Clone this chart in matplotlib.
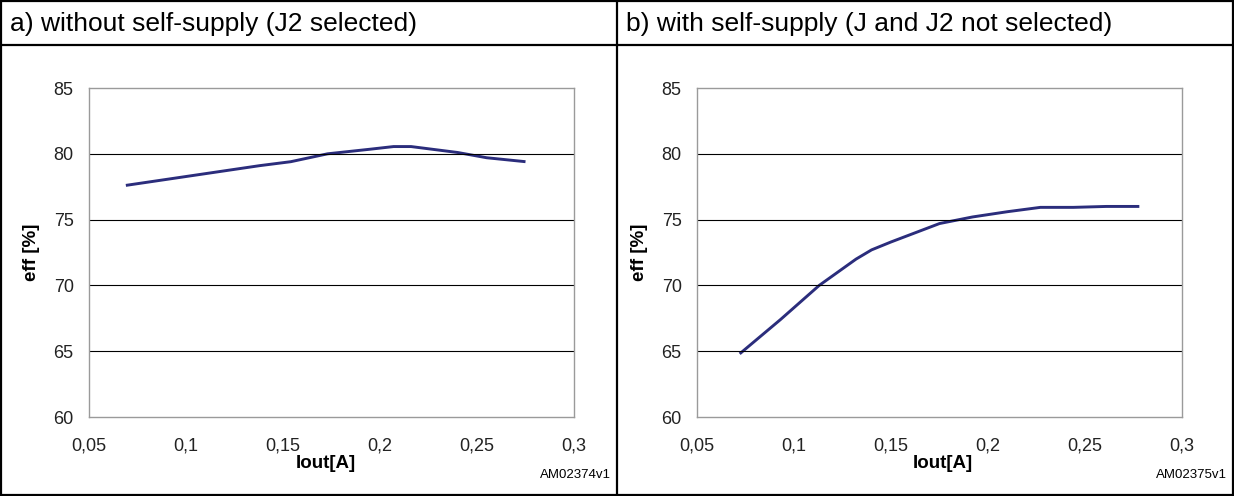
import matplotlib
matplotlib.use('Agg')
import matplotlib.pyplot as plt
from matplotlib.lines import Line2D

plt.rcParams['font.family'] = ['Liberation Sans', 'DejaVu Sans']

# data
iout_a = [0.069, 0.138, 0.154, 0.173, 0.195, 0.207, 0.216, 0.240, 0.255, 0.275]
eff_a = [77.6, 79.1, 79.4, 80.0, 80.35, 80.55, 80.55, 80.1, 79.7, 79.4]

iout_b = [0.072, 0.093, 0.113, 0.132, 0.140, 0.150, 0.175, 0.192, 0.210, 0.227, 0.244, 0.261, 0.278]
eff_b = [64.8, 67.4, 70.0, 72.0, 72.7, 73.3, 74.7, 75.2, 75.6, 75.93, 75.93, 76.0, 76.0]

x_ticks = [0.05, 0.1, 0.15, 0.2, 0.25, 0.3]
x_ticklabels = ['0,05', '0,1', '0,15', '0,2', '0,25', '0,3']
y_ticks = [60, 65, 70, 75, 80, 85]

titles = ['a) without self-supply (J2 selected)', 'b) with self-supply (J and J2 not selected)']
codes = ['AM02374v1', 'AM02375v1']

W, H = 1234, 496
fig = plt.figure(figsize=(W / 100, H / 100), dpi=100)


def fx(px):
    return px / W


def fy(py):
    return 1 - py / H


## table frame around the two panels
frame = dict(color='black', lw=1.6, transform=fig.transFigure)
for xs, ys in [([1, 1233], [1, 1]), ([1, 1233], [495, 495]), ([1, 1], [1, 495]),
               ([1233, 1233], [1, 495]), ([617, 617], [1, 495]), ([1, 1233], [45, 45])]:
    fig.add_artist(Line2D([fx(x) for x in xs], [fy(y) for y in ys], **frame))

panels = [
    (89, iout_a, eff_a, 10, 326, 464, 611),
    (697, iout_b, eff_b, 626, 943, 463, 1227),
]

for i, (left, xs, ys, tx, lx, ly, cx) in enumerate(panels):
    ax = fig.add_axes([fx(left), fy(417), 485 / W, 329 / H])
    ax.plot(xs, ys, color='#2b2d7c', lw=2.1, solid_capstyle='butt')
    ax.set_xlim(0.05, 0.3)
    ax.set_ylim(60, 85)
    ax.set_xticks(x_ticks)
    ax.set_xticklabels(x_ticklabels)
    ax.set_yticks(y_ticks)
    ax.tick_params(length=0, labelsize=13, colors='#222222')
    ax.tick_params(axis='x', pad=15)
    ax.tick_params(axis='y', pad=11)
    for yv in y_ticks[1:-1]:
        ax.axhline(yv, color='black', lw=0.8)
    for s in ax.spines.values():
        s.set_color('#9a9a9a')
        s.set_linewidth(1.0)

    fig.text(fx(tx), fy(24), titles[i], fontsize=19, va='center', ha='left')
    fig.text(fx(left - 57), fy(252), 'eff [%]', fontsize=13.5, fontweight='bold',
             rotation=90, va='center', ha='center')
    fig.text(fx(lx), fy(ly), 'Iout[A]', fontsize=13.5, fontweight='bold', va='center', ha='center')
    fig.text(fx(cx), fy(475), codes[i], fontsize=9.5, va='center', ha='right')

fig.savefig('out.png', dpi=100)
